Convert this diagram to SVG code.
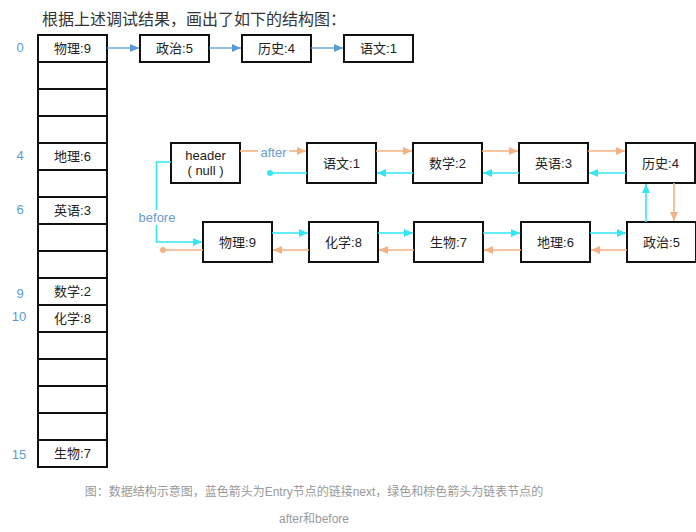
<svg xmlns="http://www.w3.org/2000/svg" width="696" height="532" viewBox="0 0 696 532">
<style>
text{font-family:"Liberation Sans","Noto Sans CJK SC",sans-serif}
.box{fill:#fff;stroke:#111;stroke-width:2}
.t{font-size:13px;fill:#222;text-anchor:middle;dominant-baseline:central}
.idx{font-size:13px;fill:#5b9bd5;text-anchor:middle;dominant-baseline:central}
.bl{stroke:#5b9bd5;stroke-width:1.3;fill:none}
.or{stroke:#f4b183;stroke-width:1.6;fill:none}
.cy{stroke:#33e6f2;stroke-width:1.6;fill:none}
</style>
<defs>
<marker id="ab" markerUnits="userSpaceOnUse" markerWidth="10" markerHeight="10" refX="9" refY="5" orient="auto"><path d="M0,1 L9,5 L0,9 Z" fill="#5b9bd5"/></marker>
<marker id="ao" markerUnits="userSpaceOnUse" markerWidth="10" markerHeight="10" refX="9" refY="5" orient="auto"><path d="M0,1 L9,5 L0,9 Z" fill="#f4b183"/></marker>
<marker id="ac" markerUnits="userSpaceOnUse" markerWidth="10" markerHeight="10" refX="9" refY="5" orient="auto"><path d="M0,1 L9,5 L0,9 Z" fill="#33e6f2"/></marker>
</defs>
<rect width="696" height="532" fill="#fff"/>
<text x="42" y="25" font-size="16" fill="#333">根据上述调试结果，画出了如下的结构图：</text>

<g id="table">
<rect class="box" x="38" y="35" width="69" height="27"/>
<rect class="box" x="38" y="62" width="69" height="27"/>
<rect class="box" x="38" y="89" width="69" height="27"/>
<rect class="box" x="38" y="116" width="69" height="27"/>
<rect class="box" x="38" y="143" width="69" height="27"/>
<rect class="box" x="38" y="170" width="69" height="27"/>
<rect class="box" x="38" y="197" width="69" height="27"/>
<rect class="box" x="38" y="224" width="69" height="27"/>
<rect class="box" x="38" y="251" width="69" height="27"/>
<rect class="box" x="38" y="278" width="69" height="27"/>
<rect class="box" x="38" y="305" width="69" height="27"/>
<rect class="box" x="38" y="332" width="69" height="27"/>
<rect class="box" x="38" y="359" width="69" height="27"/>
<rect class="box" x="38" y="386" width="69" height="27"/>
<rect class="box" x="38" y="413" width="69" height="27"/>
<rect class="box" x="38" y="440" width="69" height="27"/>
<text class="t" x="72.5" y="48.5">物理:9</text>
<text class="t" x="72.5" y="156.5">地理:6</text>
<text class="t" x="72.5" y="210.5">英语:3</text>
<text class="t" x="72.5" y="291.5">数学:2</text>
<text class="t" x="72.5" y="318.5">化学:8</text>
<text class="t" x="72.5" y="453.5">生物:7</text>
<text class="idx" x="20" y="47">0</text>
<text class="idx" x="20" y="155">4</text>
<text class="idx" x="20" y="209">6</text>
<text class="idx" x="20" y="293">9</text>
<text class="idx" x="19" y="316">10</text>
<text class="idx" x="19" y="454">15</text>
</g>

<g id="top-zhengzhi"><rect class="box" x="140" y="35" width="69" height="27"/><text class="t" x="174.5" y="48.5">政治:5</text></g>
<g id="top-lishi"><rect class="box" x="242" y="35" width="69" height="27"/><text class="t" x="276.5" y="48.5">历史:4</text></g>
<g id="top-yuwen"><rect class="box" x="344" y="35" width="69" height="27"/><text class="t" x="378.5" y="48.5">语文:1</text></g>

<g id="header"><rect class="box" x="171" y="143" width="69" height="40"/><text class="t" x="205.5" y="155">header</text><text class="t" x="205.5" y="170">( null )</text></g>
<g id="yuwen"><rect class="box" x="307" y="143" width="69" height="40"/><text class="t" x="341.5" y="163">语文:1</text></g>
<g id="shuxue"><rect class="box" x="413" y="143" width="69" height="40"/><text class="t" x="447.5" y="163">数学:2</text></g>
<g id="yingyu"><rect class="box" x="519" y="143" width="69" height="40"/><text class="t" x="553.5" y="163">英语:3</text></g>
<g id="lishi"><rect class="box" x="626" y="143" width="69" height="40"/><text class="t" x="660.5" y="163">历史:4</text></g>

<g id="wuli"><rect class="box" x="203" y="222" width="69" height="40"/><text class="t" x="237.5" y="242">物理:9</text></g>
<g id="huaxue"><rect class="box" x="309" y="222" width="69" height="40"/><text class="t" x="343.5" y="242">化学:8</text></g>
<g id="shengwu"><rect class="box" x="414" y="222" width="69" height="40"/><text class="t" x="448.5" y="242">生物:7</text></g>
<g id="dili"><rect class="box" x="521" y="222" width="69" height="40"/><text class="t" x="555.5" y="242">地理:6</text></g>
<g id="zhengzhi"><rect class="box" x="627" y="222" width="69" height="40"/><text class="t" x="661.5" y="242">政治:5</text></g>

<g id="connectors">
<path class="bl" d="M107,48 H139" marker-end="url(#ab)"/>
<path class="bl" d="M209,48 H241" marker-end="url(#ab)"/>
<path class="bl" d="M311,48 H343" marker-end="url(#ab)"/>

<path class="or" d="M240,151 H258"/>
<path class="or" d="M289,151 H306" marker-end="url(#ao)"/>
<text x="273.5" y="152" font-size="13" fill="#6a9bd0" text-anchor="middle" dominant-baseline="central">after</text>

<path class="or" d="M376,151 H412" marker-end="url(#ao)"/>
<path class="or" d="M482,151 H518" marker-end="url(#ao)"/>
<path class="or" d="M588,151 H625" marker-end="url(#ao)"/>

<path class="cy" d="M626,173 H589" marker-end="url(#ac)"/>
<path class="cy" d="M519,173 H483" marker-end="url(#ac)"/>
<path class="cy" d="M413,173 H377" marker-end="url(#ac)"/>
<path class="cy" d="M307,173 H270"/>
<circle cx="270" cy="173" r="3" fill="#33e6f2"/>

<path class="cy" d="M171,162 H156.5 V242 H202" marker-end="url(#ac)"/>
<rect x="136" y="210" width="42" height="15" fill="#fff"/>
<text x="157" y="217.5" font-size="13" fill="#6a9bd0" text-anchor="middle" dominant-baseline="central">before</text>

<path class="cy" d="M646,222 V184" marker-end="url(#ac)"/>
<path class="or" d="M674,183 V221" marker-end="url(#ao)"/>

<path class="cy" d="M272,233 H308" marker-end="url(#ac)"/>
<path class="cy" d="M378,233 H413" marker-end="url(#ac)"/>
<path class="cy" d="M483,233 H520" marker-end="url(#ac)"/>
<path class="cy" d="M590,233 H626" marker-end="url(#ac)"/>

<path class="or" d="M627,250 H591" marker-end="url(#ao)"/>
<path class="or" d="M521,250 H484" marker-end="url(#ao)"/>
<path class="or" d="M414,250 H379" marker-end="url(#ao)"/>
<path class="or" d="M309,250 H273" marker-end="url(#ao)"/>
<path class="or" d="M203,250 H163"/>
<circle cx="163" cy="250" r="3" fill="#f4b183"/>
</g>

<text x="314" y="496" font-size="12" fill="#999" text-anchor="middle">图：数据结构示意图，蓝色箭头为Entry节点的链接next，绿色和棕色箭头为链表节点的</text>
<text x="314" y="523" font-size="12" fill="#999" text-anchor="middle">after和before</text>
</svg>
